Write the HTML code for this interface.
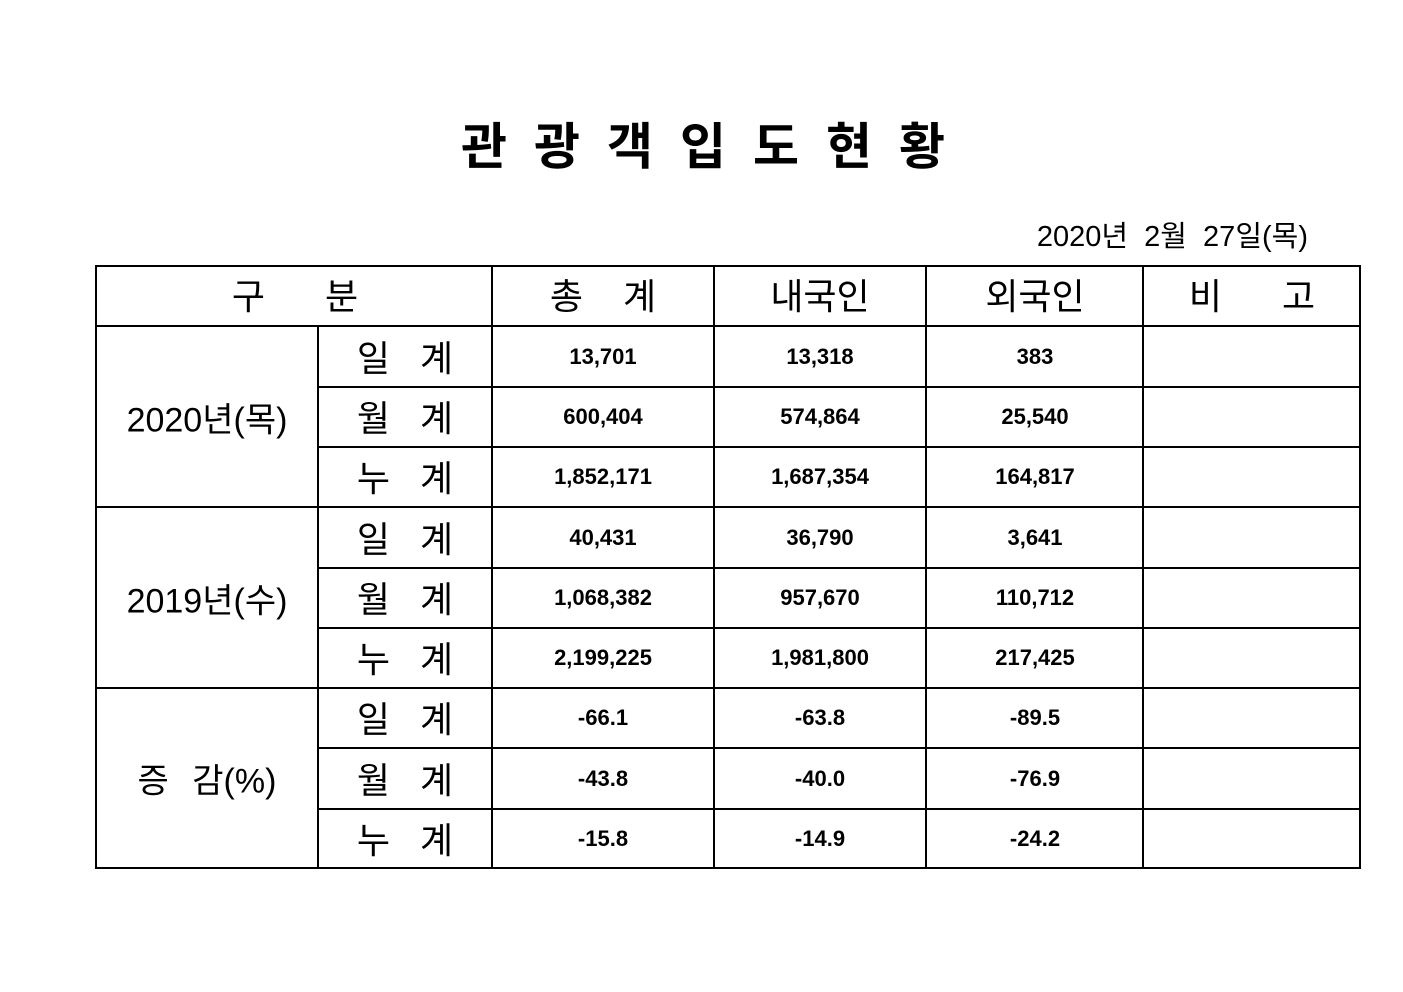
<!DOCTYPE html>
<html><head><meta charset="utf-8"><style>
body{margin:0;width:1403px;height:992px;background:#fff;position:relative;overflow:hidden;font-family:"Liberation Sans","Noto Sans CJK KR","NanumGothic",sans-serif;color:#000}
.t{position:absolute;white-space:nowrap;transform:translate(-50%,-50%)}
.h{position:absolute;background:#000}
.n{font-weight:bold;font-size:22px}
.l{font-size:36px}
</style></head><body>
<div class="t" style="left:703px;top:143px;font-size:50px;font-weight:bold;letter-spacing:27px;padding-left:27px">관광객입도현황</div>
<div style="position:absolute;right:95px;top:213px;font-size:29px;white-space:pre">2020년  2월  27일(목)</div>

<div class="h" style="left:95px;top:265px;width:1266px;height:2px"></div>
<div class="h" style="left:95px;top:325px;width:1266px;height:2px"></div>
<div class="h" style="left:318px;top:386px;width:1043px;height:2px"></div>
<div class="h" style="left:318px;top:446px;width:1043px;height:2px"></div>
<div class="h" style="left:95px;top:506px;width:1266px;height:2px"></div>
<div class="h" style="left:318px;top:567px;width:1043px;height:2px"></div>
<div class="h" style="left:318px;top:627px;width:1043px;height:2px"></div>
<div class="h" style="left:95px;top:687px;width:1266px;height:2px"></div>
<div class="h" style="left:318px;top:747px;width:1043px;height:2px"></div>
<div class="h" style="left:318px;top:808px;width:1043px;height:2px"></div>
<div class="h" style="left:95px;top:867px;width:1266px;height:2px"></div>
<div class="h" style="left:95px;top:265px;width:2px;height:604px"></div>
<div class="h" style="left:317px;top:326px;width:2px;height:543px"></div>
<div class="h" style="left:491px;top:265px;width:2px;height:604px"></div>
<div class="h" style="left:713px;top:265px;width:2px;height:604px"></div>
<div class="h" style="left:925px;top:265px;width:2px;height:604px"></div>
<div class="h" style="left:1142px;top:265px;width:2px;height:604px"></div>
<div class="h" style="left:1359px;top:265px;width:2px;height:604px"></div>

<div class="t l" style="left:295px;top:294px;word-spacing:50px">구 분</div>
<div class="t l" style="left:603px;top:294px;word-spacing:30px">총 계</div>
<div class="t l" style="left:820px;top:294px">내국인</div>
<div class="t l" style="left:1035px;top:294px">외국인</div>
<div class="t l" style="left:1252px;top:294px;word-spacing:50px">비 고</div>

<div class="t l" style="left:207px;top:417px;font-size:34px">2020년(목)</div>
<div class="t l" style="left:207px;top:598px;font-size:34px">2019년(수)</div>
<div class="t l" style="left:207px;top:778px;font-size:34px;word-spacing:14px">증 감(%)</div>

<div class="t l" style="left:405px;top:356px;word-spacing:20px">일 계</div>
<div class="t l" style="left:405px;top:416px;word-spacing:20px">월 계</div>
<div class="t l" style="left:405px;top:476px;word-spacing:20px">누 계</div>
<div class="t l" style="left:405px;top:537px;word-spacing:20px">일 계</div>
<div class="t l" style="left:405px;top:597px;word-spacing:20px">월 계</div>
<div class="t l" style="left:405px;top:657px;word-spacing:20px">누 계</div>
<div class="t l" style="left:405px;top:717px;word-spacing:20px">일 계</div>
<div class="t l" style="left:405px;top:778px;word-spacing:20px">월 계</div>
<div class="t l" style="left:405px;top:838px;word-spacing:20px">누 계</div>

<div class="t n" style="left:603px;top:357px">13,701</div><div class="t n" style="left:820px;top:357px">13,318</div><div class="t n" style="left:1035px;top:357px">383</div>
<div class="t n" style="left:603px;top:417px">600,404</div><div class="t n" style="left:820px;top:417px">574,864</div><div class="t n" style="left:1035px;top:417px">25,540</div>
<div class="t n" style="left:603px;top:477px">1,852,171</div><div class="t n" style="left:820px;top:477px">1,687,354</div><div class="t n" style="left:1035px;top:477px">164,817</div>
<div class="t n" style="left:603px;top:538px">40,431</div><div class="t n" style="left:820px;top:538px">36,790</div><div class="t n" style="left:1035px;top:538px">3,641</div>
<div class="t n" style="left:603px;top:598px">1,068,382</div><div class="t n" style="left:820px;top:598px">957,670</div><div class="t n" style="left:1035px;top:598px">110,712</div>
<div class="t n" style="left:603px;top:658px">2,199,225</div><div class="t n" style="left:820px;top:658px">1,981,800</div><div class="t n" style="left:1035px;top:658px">217,425</div>
<div class="t n" style="left:603px;top:718px">-66.1</div><div class="t n" style="left:820px;top:718px">-63.8</div><div class="t n" style="left:1035px;top:718px">-89.5</div>
<div class="t n" style="left:603px;top:779px">-43.8</div><div class="t n" style="left:820px;top:779px">-40.0</div><div class="t n" style="left:1035px;top:779px">-76.9</div>
<div class="t n" style="left:603px;top:839px">-15.8</div><div class="t n" style="left:820px;top:839px">-14.9</div><div class="t n" style="left:1035px;top:839px">-24.2</div>
</body></html>
